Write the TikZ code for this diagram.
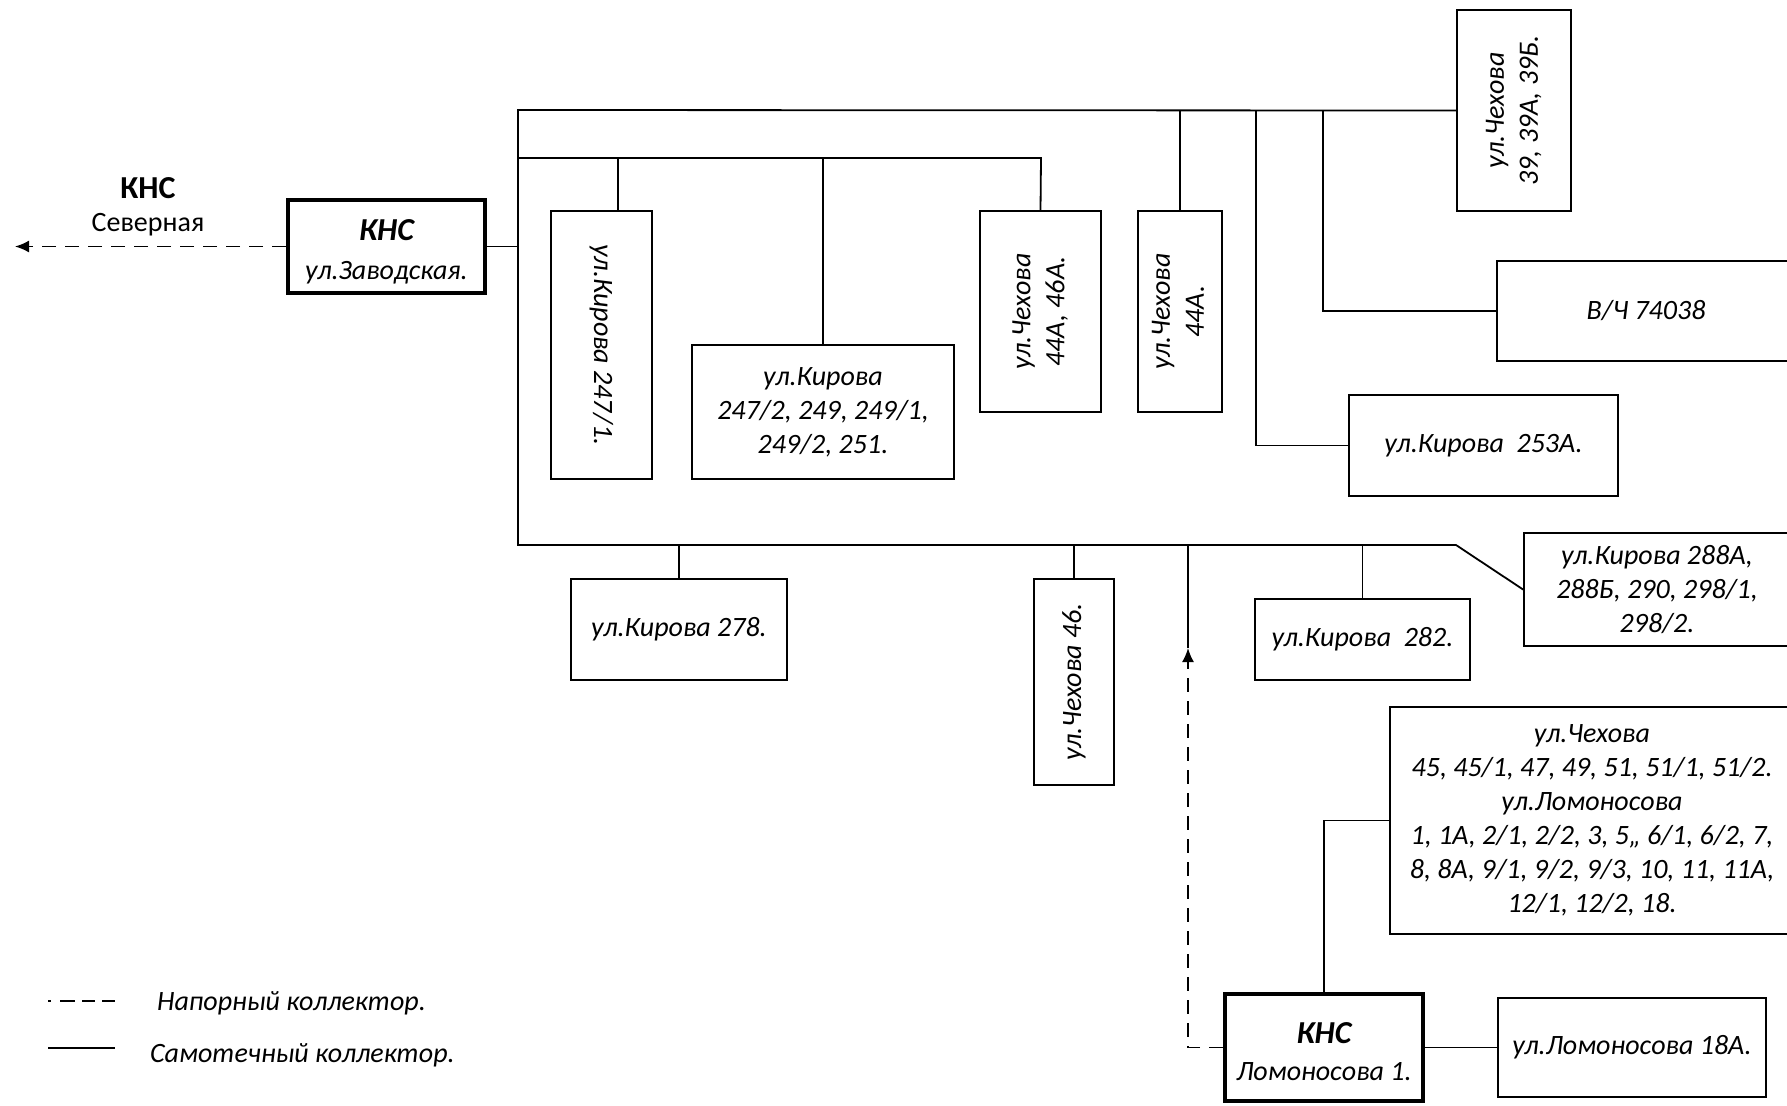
\documentclass[tikz,border=0pt]{standalone}
\usepackage{fontspec}
\setmainfont{Carlito}
\usepackage{graphicx}
\usetikzlibrary{arrows.meta}
\newcommand{\vlines}[1]{\begin{tabular}{@{}c@{}}#1\end{tabular}}
\newcommand{\knstitle}{{\fontsize{16}{17}\selectfont\bfseries КНС}}
% lower a block of text without changing its declared size
\newcommand{\lowered}[2]{\raisebox{-#1}[\height][\depth]{#2}}
\begin{document}
\begin{tikzpicture}[x=0.5pt,y=-0.5pt,
  txt/.style={font=\fontsize{14}{17}\selectfont\itshape},
  box/.style={draw,line width=0.9pt,inner sep=0pt,align=center,txt},
  knsbox/.style={box,line width=2pt},
  pipe/.style={line width=0.9pt},
  press/.style={line width=0.9pt,dash pattern=on 7pt off 4.5pt},
  tip/.style={-{Latex[length=7pt,width=6pt]}}
]
\useasboundingbox (0,0) rectangle (1787,1105);
\clip (0,0) rectangle (1787,1105);

% pumping stations
\node[knsbox,minimum width=98.5pt,minimum height=46.5pt] (zav) at (386.5,246.5)
  {\lowered{3.4pt}{\vlines{\knstitle\\[2.5pt]ул.Заводская.}}};
\node[knsbox,minimum width=99pt,minimum height=53.5pt] (kl) at (1324,1047.5)
  {\lowered{4pt}{\vlines{\knstitle\\[1.5pt]Ломоносова 1.}}};

% served buildings
\node[box,minimum width=50.5pt,minimum height=134pt] (k2471) at (601.5,345)
  {\rotatebox{-90}{ул.Кирова 247/1.}};
\node[box,minimum width=131pt,minimum height=67pt] (k247) at (823,412)
  {ул.Кирова\\247/2, 249, 249/1,\\249/2, 251.};
\node[box,minimum width=60.5pt,minimum height=100.5pt] (ch4446) at (1040.5,311.5)
  {\rotatebox{90}{\vlines{ул.Чехова\\44А, 46А.}}};
\node[box,minimum width=42pt,minimum height=100.5pt] (ch44) at (1180,311.5)
  {\rotatebox{90}{\vlines{ул.Чехова\\44А.}}};
\node[box,minimum width=57pt,minimum height=100.5pt] (ch39) at (1514,110.5)
  {\rotatebox{90}{\vlines{ул.Чехова\\39, 39А, 39Б.}}};
\node[box,minimum width=149pt,minimum height=50pt] (vch) at (1646,311) {В/Ч 74038};
\node[box,minimum width=134.5pt,minimum height=50.5pt] (k253) at (1483.5,445.5)
  {ул.Кирова\ \ 253А.};
\node[box,minimum width=133pt,minimum height=56.5pt] (k288) at (1657,589.5)
  {ул.Кирова 288А,\\288Б, 290, 298/1,\\298/2.};
\node[box,minimum width=108pt,minimum height=50.5pt] (k278) at (679,629.5) {ул.Кирова 278.};
\node[box,minimum width=40pt,minimum height=103pt] (ch46) at (1074,682)
  {\rotatebox{90}{ул.Чехова 46.}};
\node[box,minimum width=107.5pt,minimum height=40.5pt] (k282) at (1362.5,639.5)
  {ул.Кирова\ \ 282.};
\node[box,minimum width=202pt,minimum height=113.5pt] (ch45) at (1592,820.5)
  {ул.Чехова\\45, 45/1, 47, 49, 51, 51/1, 51/2.\\ул.Ломоносова\\1, 1А, 2/1, 2/2, 3, 5,, 6/1, 6/2, 7,\\8, 8А, 9/1, 9/2, 9/3, 10, 11, 11А,\\12/1, 12/2, 18.};
\node[box,minimum width=134pt,minimum height=49.5pt] (l18) at (1632,1047.5) {ул.Ломоносова 18А.};

% junction points of the gravity network
\coordinate (tl) at (518,110);
\coordinate (ml) at (518,158);
\coordinate (mr) at (1041,158);
\coordinate (bl) at (518,545);
\coordinate (br) at (1456,545);
\coordinate (j1) at (618,158);
\coordinate (j2) at (1256,110);
\coordinate (j3) at (1323,110);
\coordinate (arr) at (1188,648);
\coordinate (out) at (15,246.5);

% gravity collectors
\draw[pipe] (ch39.west) -- (tl) -- (bl) -- (br) -- (k288.west);
\draw[pipe] (ml) -- (mr) -- (ch4446.north);
\draw[pipe] (zav.east) -- (zav.east -| tl);
\draw[pipe] (j1) -- (j1 |- k2471.north);
\draw[pipe] (k247.north) -- (k247.north |- ml);
\draw[pipe] (ch44.north) -- (ch44.north |- tl);
\draw[pipe] (k253.west) -| (j2);
\draw[pipe] (vch.west) -| (j3);
\draw[pipe] (k278.north) -- (k278.north |- bl);
\draw[pipe] (ch46.north) -- (ch46.north |- bl);
\draw[pipe] (k282.north) -- (k282.north |- bl);
\draw[pipe] (arr) -- (arr |- bl);
\draw[pipe] (kl.north) |- (ch45.west);
\draw[pipe] (kl.east) -- (l18.west);

% pressure collectors
\draw[press,tip] (kl.west) -| (arr);
\draw[press,tip] (zav.west) -- (out);

% outgoing station label
\node[font=\fontsize{16}{18}\selectfont\bfseries] (nk) at (148,188) {КНС};
\node[font=\fontsize{14}{17}\selectfont] (ns) at (148,225) {Северная};

% legend
\coordinate (la) at (48,1001);
\coordinate (lb) at (115,1001);
\coordinate (lc) at (48,1048);
\coordinate (ld) at (115,1048);
\draw[line width=0.9pt,dash pattern=on 1.5pt off 4.5pt on 7.5pt off 3.5pt on 6.5pt off 3.5pt on 6.5pt off 10pt] (la) -- (lb);
\draw[pipe] (lc) -- (ld);
\node[txt,anchor=west] (leg1) at (150,1003) {Напорный коллектор.};
\node[txt,anchor=west] (leg2) at (143,1055) {Самотечный коллектор.};
\end{tikzpicture}
\end{document}
